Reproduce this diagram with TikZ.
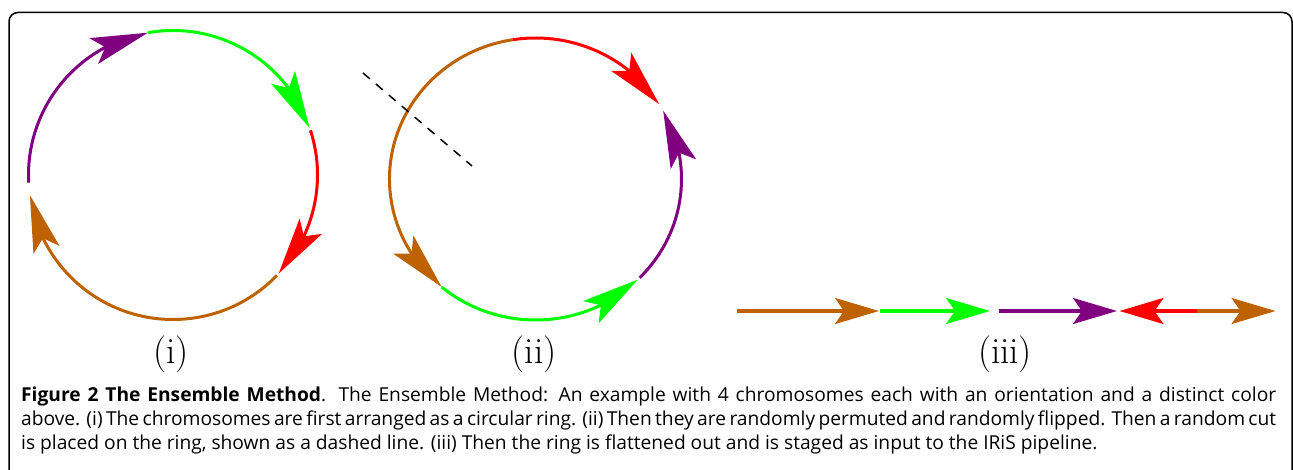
\documentclass[tikz,border=0pt]{standalone}
\usepackage{fontspec}
\newfontfamily\capfont{Open Sans}
\usetikzlibrary{arrows.meta,bending}
\definecolor{cbrown}{RGB}{190,98,0}
\definecolor{cgreen}{RGB}{0,255,0}
\definecolor{cred}{RGB}{255,0,0}
\definecolor{cpurple}{RGB}{128,0,128}
\tikzset{
  seg/.style={line width=3pt},
  ringtip/.style={-{Stealth[length=57pt,width=27pt,inset=12pt,flex]}},
  linetip/.style={-{Stealth[length=44pt,width=26pt,inset=9pt]}},
  label/.style={font=\fontsize{37}{40}\selectfont, anchor=base, inner sep=0pt},
  capline/.style={font=\capfont\fontsize{19.2}{24}\selectfont, anchor=base west, inner sep=0pt},
  cut/.style={line width=1.5pt, dash pattern=on 9pt off 8pt},
  frame/.style={line width=1.5pt, rounded corners=9pt}
}
\begin{document}
\begin{tikzpicture}[x=1pt,y=1pt]
\useasboundingbox (0,0) rectangle (1293,469);
\clip (0,0) rectangle (1293,469);
\fill[white] (0,0) rectangle (1293,469);
\draw[frame] (9,-20) -- (9,456.5) -- (1292,456.5) -- (1292,-20);

% ring (i)
\coordinate (c1) at (173,294);
\path (c1) ++(183:144.5) coordinate (i1)
      (c1) ++(100:144.5) coordinate (i2)
      (c1) ++(18:144.5) coordinate (i3)
      (c1) ++(-44:144.5) coordinate (i4);
\draw[seg,cpurple,ringtip] (i1) arc[start angle=183,end angle=100,radius=144.5];
\draw[seg,cgreen,ringtip] (i2) arc[start angle=100,end angle=19,radius=144.5];
\draw[seg,cred,ringtip] (i3) arc[start angle=18,end angle=-43,radius=144.5];
\draw[seg,cbrown,ringtip] (i4) arc[start angle=-44,end angle=-172,radius=144.5];

% ring (ii)
\coordinate (c2) at (535.5,290);
\path (c2) ++(99:146 and 141) coordinate (j1)
      (c2) ++(230:146 and 141) coordinate (j2)
      (c2) ++(315.5:146 and 141) coordinate (j3);
\draw[seg,cbrown,ringtip] (j1) arc[start angle=99,end angle=230,x radius=146,y radius=141];
\draw[seg,cgreen,ringtip] (j2) arc[start angle=230,end angle=314.5,x radius=146,y radius=141];
\draw[seg,cpurple,ringtip] (j3) arc[start angle=315.5,end angle=389,x radius=146,y radius=141];
\draw[seg,cred,ringtip] (j1) arc[start angle=99,end angle=32,x radius=146,y radius=141];
\coordinate (d1) at (363,396);
\coordinate (d2) at (472,303);
\draw[cut] (d1) -- (d2);

% line (iii)
\coordinate (k0) at (737,158);
\coordinate (k1) at (879,158);
\coordinate (k2) at (880,158);
\coordinate (k3) at (990,158);
\coordinate (k4) at (999,158);
\coordinate (k5) at (1117,158);
\coordinate (k6) at (1119.5,158);
\coordinate (k7) at (1197,158);
\coordinate (k8) at (1275.5,158);
\draw[seg,cbrown,linetip] (k0) -- (k1);
\draw[seg,cgreen,linetip] (k2) -- (k3);
\draw[seg,cpurple,linetip] (k4) -- (k5);
\draw[seg,cred,linetip] (k7) -- (k6);
\draw[seg,cbrown,linetip] (k7) -- (k8);

% labels
\node[label] (l1) at (171,106) {(i)};
\node[label] (l2) at (534,106) {(ii)};
\node[label] (l3) at (1005,106) {(iii)};

% caption
\node[capline] (cap1) at (21,68) {\makebox[1255pt][s]{\textbf{Figure 2 The Ensemble Method}. The Ensemble Method: An example with 4 chromosomes each with an orientation and a distinct color}};
\node[capline] (cap2) at (21,44) {\makebox[1255pt][s]{above. (i) The chromosomes are first arranged as a circular ring. (ii) Then they are randomly permuted and randomly flipped. Then a random cut}};
\node[capline] (cap3) at (21,20) {is placed on the ring, shown as a dashed line. (iii) Then the ring is flattened out and is staged as input to the IRiS pipeline.};
\end{tikzpicture}
\end{document}
